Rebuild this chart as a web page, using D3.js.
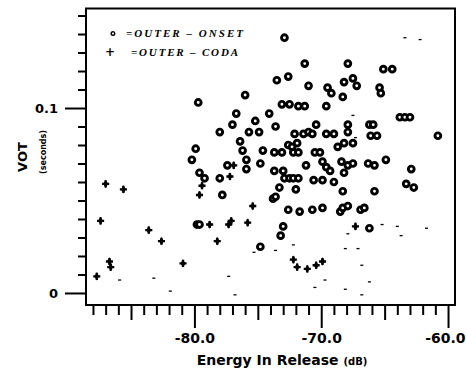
<!DOCTYPE html>
<html>
<head>
<meta charset="utf-8">
<script src="https://cdn.jsdelivr.net/npm/d3@7"></script>
<style>
  body { margin: 0; background: #fff; }
  svg { display: block; }
</style>
</head>
<body>
<svg width="466" height="370"></svg>
<script>
// OUTER-ONSET tokens: [energy dB, VOT s]
const onsetPoints = [
  [-72.9, 0.138], [-71.3, 0.124], [-67.9, 0.124], [-65.1, 0.121], [-64.4, 0.121],
  [-73.5, 0.115], [-72.6, 0.117], [-71.0, 0.112], [-69.5, 0.111], [-69.2, 0.108],
  [-68.2, 0.114], [-67.5, 0.116], [-67.2, 0.112], [-65.4, 0.111], [-65.3, 0.108],
  [-76.0, 0.107], [-68.3, 0.106], [-79.7, 0.103], [-73.1, 0.102], [-72.5, 0.102],
  [-71.8, 0.101], [-71.3, 0.101], [-69.6, 0.101], [-76.7, 0.097], [-74.1, 0.097],
  [-75.2, 0.093], [-63.8, 0.095], [-63.4, 0.095], [-63.0, 0.095], [-77.0, 0.091],
  [-73.6, 0.090], [-70.4, 0.091], [-67.9, 0.091], [-66.2, 0.091], [-65.9, 0.091],
  [-78.0, 0.087], [-75.7, 0.087], [-74.9, 0.087], [-72.1, 0.086], [-71.4, 0.086],
  [-71.0, 0.087], [-70.7, 0.086], [-69.6, 0.086], [-69.0, 0.086], [-67.9, 0.087],
  [-66.1, 0.085], [-65.6, 0.085], [-60.8, 0.085], [-76.4, 0.082], [-72.6, 0.080],
  [-72.3, 0.079], [-71.9, 0.081], [-68.7, 0.079], [-68.2, 0.081], [-67.5, 0.081],
  [-79.9, 0.078], [-76.2, 0.077], [-74.6, 0.077], [-73.7, 0.076], [-73.1, 0.076],
  [-72.2, 0.076], [-71.8, 0.076], [-70.5, 0.076], [-70.1, 0.076], [-80.2, 0.072],
  [-77.4, 0.069], [-75.9, 0.072], [-74.8, 0.070], [-71.2, 0.069], [-69.9, 0.071],
  [-69.6, 0.068], [-69.3, 0.066], [-68.4, 0.071], [-67.9, 0.069], [-67.5, 0.070],
  [-66.3, 0.070], [-65.8, 0.069], [-64.9, 0.072], [-79.6, 0.065], [-79.2, 0.062],
  [-75.9, 0.067], [-62.9, 0.067], [-78.0, 0.062], [-73.7, 0.066], [-73.0, 0.066],
  [-68.2, 0.065], [-72.9, 0.062], [-72.5, 0.062], [-72.2, 0.062], [-71.8, 0.062],
  [-70.6, 0.061], [-69.9, 0.061], [-69.0, 0.060], [-73.3, 0.057], [-72.0, 0.056],
  [-63.3, 0.059], [-62.7, 0.057], [-68.3, 0.055], [-65.8, 0.055], [-77.8, 0.053],
  [-73.8, 0.051], [-73.6, 0.052], [-72.6, 0.045], [-71.7, 0.044], [-70.7, 0.045],
  [-69.9, 0.046], [-68.5, 0.044], [-68.3, 0.046], [-67.9, 0.047], [-66.9, 0.045],
  [-66.6, 0.046], [-79.8, 0.037], [-79.6, 0.037], [-73.0, 0.036], [-66.2, 0.035],
  [-73.2, 0.031], [-74.8, 0.025]
];

// OUTER-CODA tokens
const codaPoints = [
  [-87.0, 0.059], [-85.6, 0.056], [-87.4, 0.039], [-83.6, 0.034], [-82.6, 0.028],
  [-86.7, 0.017], [-86.6, 0.014], [-80.9, 0.016], [-87.7, 0.009], [-79.4, 0.058],
  [-79.6, 0.053], [-78.8, 0.037], [-78.2, 0.028], [-76.9, 0.069], [-77.2, 0.063],
  [-77.3, 0.037], [-77.1, 0.039], [-75.8, 0.038], [-75.4, 0.047], [-67.3, 0.036],
  [-72.2, 0.018], [-71.9, 0.014], [-71.1, 0.013], [-70.4, 0.015], [-69.9, 0.017]
];

// faint, half-printed marks
const faintMarks = [
  [-85.9, 0.007], [-83.2, 0.008], [-81.9, 0.001], [-77.3, 0.009], [-76.8, -0.001],
  [-75.3, 0.022], [-72.2, 0.026], [-73.6, 0.023], [-63.7, 0.031], [-61.7, 0.035],
  [-67.9, 0.032], [-68.1, 0.024], [-67.1, 0.024], [-66.8, 0.015], [-66.2, 0.006],
  [-66.8, -0.001], [-70.5, 0.003], [-69.7, 0.007], [-68.1, 0.002], [-63.4, 0.138],
  [-62.2, 0.137], [-65.2, 0.037], [-64.0, 0.036], [-67.5, 0.096], [-67.3, 0.084]
];

const xMajor = [-80, -70, -60];
const xMid = [-85, -75, -65];
const xMinor = d3.range(-88, -59).filter(v => v % 5 !== 0);
const yMajor = [0, 0.1];
const yMinor = d3.range(1, 16).filter(v => v !== 10).map(v => v / 100);

const svg = d3.select('svg');

const x = d3.scaleLinear().domain([-88.55, -59.45]).range([86, 455]);
const y = d3.scaleLinear().domain([-0.0065, 0.1538]).range([305, 8.5]);

const bottom = y.range()[0];
const left = x.range()[0];

// x ticks
const xAxisGroup = (values, size, fmt) => {
  const g = svg.append('g')
    .attr('transform', 'translate(0,' + bottom + ')')
    .call(d3.axisBottom(x).tickValues(values).tickSize(size).tickPadding(5).tickFormat(fmt));
  g.select('.domain').remove();
  g.selectAll('line').attr('stroke', '#000').attr('stroke-width', 2);
  return g;
};
xAxisGroup(xMinor, 10, '');
xAxisGroup(xMid, 15, '');
xAxisGroup(xMajor, 23, d => d.toFixed(1))
  .selectAll('text')
  .attr('fill', '#000')
  .style('font', 'bold 14px "DejaVu Sans"')
  // the last label sits at the page edge; keep it inside
  .attr('text-anchor', d => d === -60 ? 'end' : 'middle')
  .attr('x', d => d === -60 ? 465 - x(d) : 0);

// y ticks
const yAxisGroup = (values, size, fmt) => {
  const g = svg.append('g')
    .attr('transform', 'translate(' + left + ',0)')
    .call(d3.axisLeft(y).tickValues(values).tickSize(size).tickPadding(7).tickFormat(fmt));
  g.select('.domain').remove();
  g.selectAll('line').attr('stroke', '#000').attr('stroke-width', 2);
  return g;
};
yAxisGroup(yMinor, 8, '');
yAxisGroup(yMajor, 21, d => d === 0 ? '0' : '0.1')
  .selectAll('text')
  .attr('fill', '#000')
  .style('font', 'bold 13px "DejaVu Sans"');

// frame
svg.append('rect')
  .attr('x', x.range()[0])
  .attr('y', y.range()[1])
  .attr('width', x.range()[1] - x.range()[0])
  .attr('height', y.range()[0] - y.range()[1])
  .attr('fill', 'none')
  .attr('stroke', '#000')
  .attr('stroke-width', 2);

// axis titles
const xt = svg.append('text')
  .attr('x', 282)
  .attr('y', 365)
  .attr('text-anchor', 'middle')
  .style('font', 'bold 14px "DejaVu Sans"');
xt.append('tspan').text('Energy In Release ');
xt.append('tspan').style('font-size', '10px').text('(dB)');

svg.append('text')
  .attr('transform', 'translate(27,157) rotate(-90)')
  .attr('text-anchor', 'middle')
  .style('font', 'bold 13px "DejaVu Sans"')
  .text('VOT');

svg.append('text')
  .attr('transform', 'translate(46,152) rotate(-90)')
  .attr('text-anchor', 'middle')
  .style('font', 'bold 8px "DejaVu Sans"')
  .text('(seconds)');

// legend
const legendFont = 'italic bold 11px "Liberation Serif"';
svg.append('circle')
  .attr('cx', 113).attr('cy', 33.5).attr('r', 1.8)
  .attr('fill', 'none').attr('stroke', '#000').attr('stroke-width', 1.4);
svg.append('text')
  .attr('x', 126).attr('y', 37)
  .attr('textLength', 117).attr('lengthAdjust', 'spacing')
  .style('font', legendFont)
  .text('=OUTER – ONSET');
svg.append('text')
  .attr('x', 110).attr('y', 56)
  .attr('text-anchor', 'middle')
  .style('font', 'bold 12px "DejaVu Sans"')
  .text('+');
svg.append('text')
  .attr('x', 131).attr('y', 56)
  .attr('textLength', 107).attr('lengthAdjust', 'spacing')
  .style('font', legendFont)
  .text('=OUTER – CODA');

// points
svg.append('g')
  .selectAll('path')
  .data(faintMarks)
  .enter().append('path')
  .attr('transform', d => 'translate(' + x(d[0]) + ',' + y(d[1]) + ')')
  .attr('d', 'M-1.5,0H1.5')
  .attr('stroke', '#000')
  .attr('stroke-width', 1.3);

const coda = svg.append('g')
  .selectAll('g')
  .data(codaPoints)
  .enter().append('g')
  .attr('transform', d => 'translate(' + x(d[0]) + ',' + y(d[1]) + ')');
coda.append('path')
  .attr('d', d3.symbol(d3.symbolCross, 28))
  .attr('fill', '#000');
coda.append('path')
  .attr('d', d3.symbol(d3.symbolDiamond, 20))
  .attr('fill', '#000');

svg.append('g')
  .selectAll('circle')
  .data(onsetPoints)
  .enter().append('circle')
  .attr('cx', d => x(d[0]))
  .attr('cy', d => y(d[1]))
  .attr('r', 2.9)
  .attr('fill', '#fff')
  .attr('stroke', '#000')
  .attr('stroke-width', 2.9);
</script>
</body>
</html>
